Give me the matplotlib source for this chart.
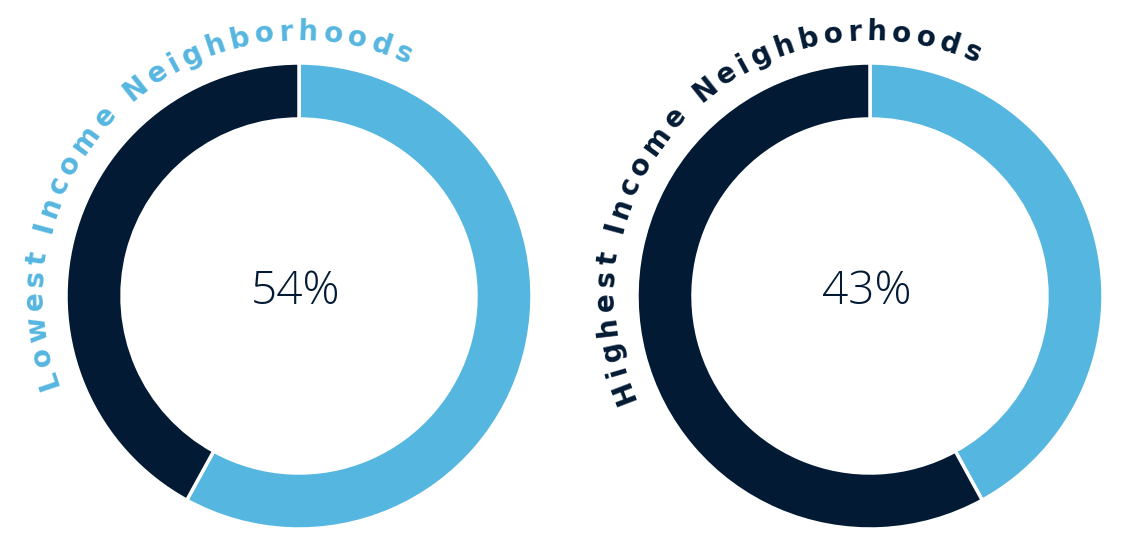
import numpy as np
import matplotlib.pyplot as plt
from matplotlib.font_manager import FontProperties, findfont, get_font

light = '#55B6E0'
navy = '#021A33'

pct_labels = [54, 43]          # numbers printed in the middle
ring_shares = [58, 42]         # light-blue part of each ring as drawn
labels = ['Lowest Income Neighborhoods', 'Highest Income Neighborhoods']
label_colors = [light, navy]
# where the curved titles start / end (degrees, counter-clockwise from east)
arc_start = [198.4, 201]
arc_end = [66.7, 67.3]


def arc_text(ax, text, cx, cy, r, a0, a1, size, color):
    fp = FontProperties(family='DejaVu Sans', weight='bold', size=size)
    font = get_font(findfont(fp))
    font.set_size(size, 100)
    widths = []
    for ch in text:
        glyph = font.load_char(ord(ch))
        widths.append(glyph.linearHoriAdvance / 65536)
    widths = np.array(widths)
    length = r * np.radians(a0 - a1)
    inner = widths.sum() - widths[0] / 2 - widths[-1] / 2
    track = (length - inner) / (len(text) - 1)
    pos = 0.0
    for i, ch in enumerate(text):
        if i > 0:
            pos += widths[i - 1] / 2 + track + widths[i] / 2
        ang = a0 - np.degrees(pos / r)
        x = cx + r * np.cos(np.radians(ang))
        y = cy + r * np.sin(np.radians(ang))
        ax.text(x, y, ch, rotation=ang - 90, rotation_mode='anchor',
                ha='center', va='baseline', fontproperties=fp, color=color)


fig = plt.figure(figsize=(11.4, 5.56), dpi=100)
ax = fig.add_axes([0, 0, 1, 1])

centers = [(299, 260), (870, 260)]
for i in range(2):
    cx, cy = centers[i]
    ax.pie([ring_shares[i], 100 - ring_shares[i]], colors=[light, navy], startangle=90,
           counterclock=False, center=(cx, cy), radius=233,
           wedgeprops=dict(width=56, edgecolor='white', linewidth=2.5))
    ax.text(cx - 3, cy + 4, f'{pct_labels[i]}%', ha='center', va='center',
            fontsize=33, family='Open Sans', weight='light', color=navy)
    arc_text(ax, labels[i], cx, cy, 256, arc_start[i], arc_end[i], 20, label_colors[i])

ax.set_xlim(0, 1140)
ax.set_ylim(0, 556)
ax.set_aspect('equal')
ax.set_axis_off()
fig.savefig('out.png', dpi=100, facecolor='white')
